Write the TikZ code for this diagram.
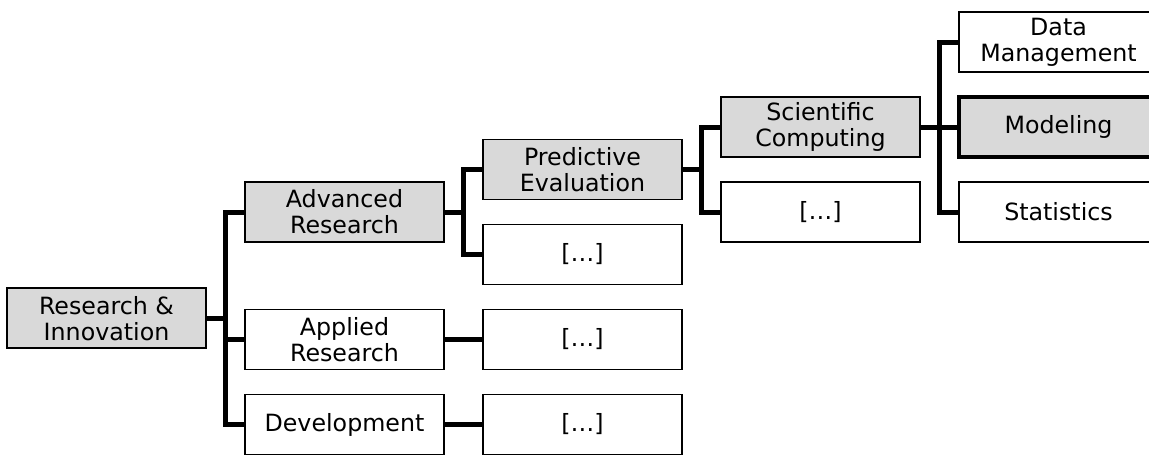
\documentclass[tikz,border=0pt]{standalone}
\usepackage{fontspec}
\setmainfont{DejaVu Sans}
\usepackage{tikz}
\usetikzlibrary{positioning}

\begin{document}
\begin{tikzpicture}[
        node distance=18.75pt and 29.25pt,
        box/.style={rectangle, draw, line width=1.2pt, minimum width=149.25pt,
                    minimum height=45pt, outer sep=0pt, align=center,
                    font=\fontsize{17.8pt}{19.5pt}\selectfont, fill=white},
        gbox/.style={box, fill=black!15},
        selbox/.style={gbox, line width=3.2pt},
        link/.style={line width=3.75pt, black}
    ]
    \path[use as bounding box, clip] (0,0) rectangle (861.75pt,-340.5pt);

    % Root
    \node[gbox] (ri) at (79.875pt,-238.69pt) {Research \&\\Innovation};

    % Column 1
    \node[gbox, right=of ri, yshift=79.69pt] (adv) {Advanced\\Research};
    \node[box, below=50.625pt of adv] (app) {Applied\\Research};
    \node[box, below=of app] (dev) {Development};

    % Column 2
    \node[gbox, right=of adv, yshift=31.875pt] (pred) {Predictive\\Evaluation};
    \node[box, below=of pred] (adv2) {[…]};
    \node[box, right=of app] (app2) {[…]};
    \node[box, right=of dev] (dev2) {[…]};

    % Column 3
    \node[gbox, right=of pred, yshift=31.875pt] (sci) {Scientific\\Computing};
    \node[box, below=of sci] (pred2) {[…]};

    % Column 4
    \node[selbox, right=of sci] (mod) {Modeling};
    \node[box, above=of mod] (data) {Data\\Management};
    \node[box, below=of mod] (stat) {Statistics};

    % Connections
    \draw[link] (ri.east) -- ++(14.6pt,0) |- (adv.west);
    \draw[link] (ri.east) -- ++(14.6pt,0) |- (app.west);
    \draw[link] (ri.east) -- ++(14.6pt,0) |- (dev.west);
    \draw[link] (adv.east) -- ++(14.6pt,0) |- (pred.west);
    \draw[link] (adv.east) -- ++(14.6pt,0) |- (adv2.west);
    \draw[link] (app.east) -- (app2.west); \draw[link] (dev.east) -- (dev2.west);
    \draw[link] (pred.east) -- ++(14.6pt,0) |- (sci.west);
    \draw[link] (pred.east) -- ++(14.6pt,0) |- (pred2.west);
    \draw[link] (sci.east) -- ++(14.6pt,0) |- (data.west);
    \draw[link] (sci.east) -- (mod.west);
    \draw[link] (sci.east) -- ++(14.6pt,0) |- (stat.west);
\end{tikzpicture}
\end{document}
